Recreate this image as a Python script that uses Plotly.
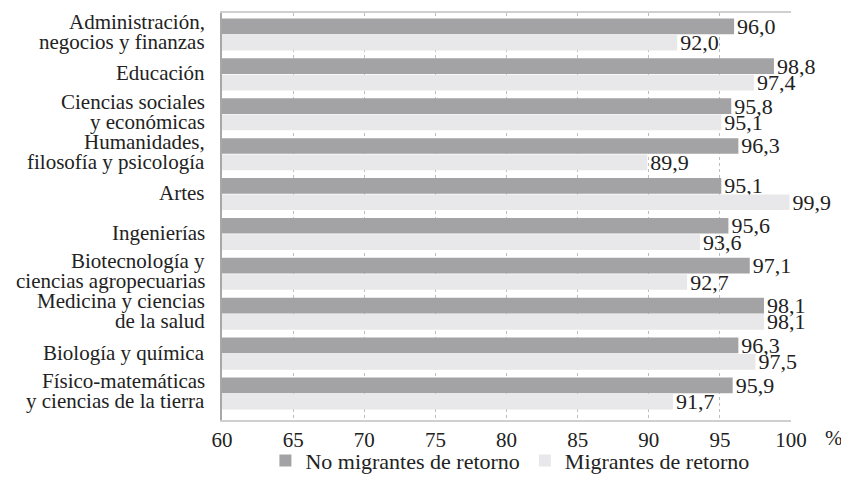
import plotly.graph_objects as go

categories = [
    "Administración,<br>negocios y finanzas",
    "Educación",
    "Ciencias sociales<br>y económicas",
    "Humanidades,<br>filosofía y psicología",
    "Artes",
    "Ingenierías",
    "Biotecnología y<br>ciencias agropecuarias",
    "Medicina y ciencias<br>de la salud",
    "Biología y química",
    "Físico-matemáticas<br>y ciencias de la tierra",
]
no_migrantes = [96.0, 98.8, 95.8, 96.3, 95.1, 95.6, 97.1, 98.1, 96.3, 95.9]
migrantes = [92.0, 97.4, 95.1, 89.9, 99.9, 93.6, 92.7, 98.1, 97.5, 91.7]
x_ticks = [60, 65, 70, 75, 80, 85, 90, 95, 100]

FONT = "Liberation Serif"

def fmt(v):
    return f"{v:.1f}".replace(".", ",")

fig = go.Figure()
fig.add_trace(go.Bar(
    y=categories, x=no_migrantes, orientation="h",
    name="No migrantes de retorno",
    marker=dict(color="#a3a3a6", line=dict(width=0)),
    text=[fmt(v) for v in no_migrantes], textposition="outside",
    textfont=dict(family=FONT, size=22, color="#222"),
    constraintext="none", cliponaxis=False,
))
fig.add_trace(go.Bar(
    y=categories, x=migrantes, orientation="h",
    name="Migrantes de retorno",
    marker=dict(color="#e8e8ea", line=dict(width=0)),
    text=[fmt(v) for v in migrantes], textposition="outside",
    textfont=dict(family=FONT, size=22, color="#222"),
    constraintext="none", cliponaxis=False,
))

# category labels as annotations (tight line spacing like the reference)
annotations = []
for cat in categories:
    lines = cat.split("<br>")
    shifts = [1] if len(lines) == 1 else [12.5, -7.5]
    for line, ys in zip(lines, shifts):
        annotations.append(dict(
            text=line, x=0, xref="paper", y=cat, yref="y",
            xanchor="right", yanchor="middle", xshift=-15, yshift=ys,
            showarrow=False, font=dict(family=FONT, size=21, color="#222"),
        ))
annotations.append(dict(text="%", x=1.095, xref="paper", y=0, yref="paper",
                        yanchor="middle", yshift=-18, showarrow=False,
                        font=dict(family=FONT, size=21, color="#222")))

# the page body adds an 8px offset, so the figure is sized/margined to compensate
fig.update_layout(
    width=841, height=479,
    margin=dict(l=214, r=58, t=5, b=67),
    paper_bgcolor="white", plot_bgcolor="white",
    barmode="group", bargap=0.18, bargroupgap=0.04,
    font=dict(family=FONT, size=21, color="#222"),
    showlegend=True,
    legend=dict(orientation="h", x=0.506, xanchor="center",
                yref="container", y=0.055, yanchor="middle",
                bgcolor="rgba(0,0,0,0)",
                font=dict(family=FONT, size=22, color="#222"),
                itemwidth=30, traceorder="normal"),
    xaxis=dict(
        range=[60, 100], tickvals=x_ticks, ticktext=[str(t) for t in x_ticks],
        showgrid=True, gridcolor="#bdbdbd", griddash="dot", gridwidth=1,
        showline=True, linecolor="#cfcfcf", linewidth=1.5, mirror=True,
        zeroline=False, ticks="", tickfont=dict(family=FONT, size=21),
        automargin=False,
    ),
    yaxis=dict(
        autorange="reversed", showgrid=False, showticklabels=False,
        showline=True, linecolor="#a8a8a8", linewidth=2,
        ticks="", automargin=False,
    ),
    annotations=annotations,
)

fig.write_html("out.html")
